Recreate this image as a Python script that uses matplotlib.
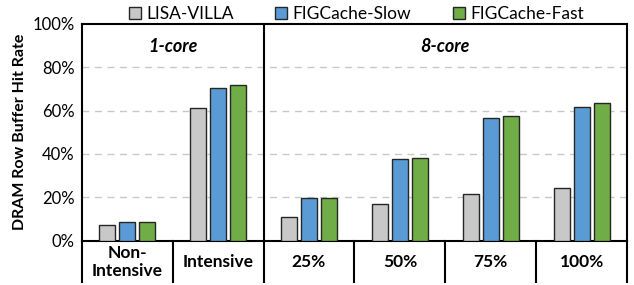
import matplotlib
matplotlib.use('Agg')
import matplotlib.pyplot as plt
from matplotlib.patches import Patch
import numpy as np

plt.rcParams['font.family'] = ['Lato', 'DejaVu Sans']

categories = ['Non-\nIntensive', 'Intensive', '25%', '50%', '75%', '100%']
series_names = ['LISA-VILLA', 'FIGCache-Slow', 'FIGCache-Fast']
lisa_villa = [7.0, 61.1, 11.0, 16.9, 21.3, 24.4]
figcache_slow = [8.5, 70.4, 19.8, 37.6, 56.4, 61.5]
figcache_fast = [8.5, 71.8, 19.8, 38.0, 57.5, 63.6]
yticks = [0, 20, 40, 60, 80, 100]
colors = ['#C8C8C8', '#5B9BD5', '#70AD47']

fig = plt.figure(figsize=(6.34, 2.85), dpi=100)
ax = fig.add_axes([0.129, 0.156, 0.860, 0.760])

x = np.arange(len(categories))
width = 0.176
offsets = [-0.22, 0.0, 0.22]
for vals, off, col in zip([lisa_villa, figcache_slow, figcache_fast], offsets, colors):
    ax.bar(x + off, vals, width, color=col, edgecolor='#262626', linewidth=1.0, zorder=3)

ax.set_xlim(-0.5, len(categories) - 0.5)
ax.set_ylim(0, 100)
ax.set_yticks(yticks)
ax.set_yticklabels([f'{t}%' for t in yticks], fontsize=12)
ax.tick_params(axis='y', length=0, pad=5)
for t in yticks[1:-1]:
    ax.axhline(t, color='#C8C8C8', linestyle=(0, (5, 4)), linewidth=1.0, zorder=1)

ax.set_xticks(x)
ax.set_xticklabels(categories, fontsize=12.5, fontweight='bold', linespacing=1.1,
                   va='center')
ax.tick_params(axis='x', length=0, pad=15.5)
ax.set_ylabel('DRAM Row Buffer Hit Rate', fontsize=11.5, fontweight='bold', labelpad=4)

for s in ax.spines.values():
    s.set_linewidth(1.5)
    s.set_color('black')

# separators between groups below the axis, and the 1-core / 8-core divider
tr = ax.get_xaxis_transform()
for xs in [0.5, 2.5, 3.5, 4.5]:
    ax.plot([xs, xs], [0, -0.19], color='black', linewidth=1.5, transform=tr, clip_on=False)
ax.plot([1.5, 1.5], [1, -0.19], color='black', linewidth=1.5, transform=tr, clip_on=False, zorder=4)
for xs in [-0.5, len(categories) - 0.5]:
    ax.plot([xs, xs], [0, -0.19], color='black', linewidth=1.5, transform=tr, clip_on=False)

ax.text(0.5, 89.5, '1-core', ha='center', va='center', fontsize=13,
        fontweight='bold', fontstyle='italic')
ax.text(3.5, 89.5, '8-core', ha='center', va='center', fontsize=13,
        fontweight='bold', fontstyle='italic')

handles = [Patch(facecolor=c, edgecolor='#262626', linewidth=1.0) for c in colors]
fig.legend(handles, series_names, loc='center', bbox_to_anchor=(0.562, 0.952), ncol=3,
           frameon=False, fontsize=12.5, handlelength=0.7, handleheight=0.7,
           handletextpad=0.3, columnspacing=2.4, borderpad=0)

fig.savefig('out.png', dpi=100)
